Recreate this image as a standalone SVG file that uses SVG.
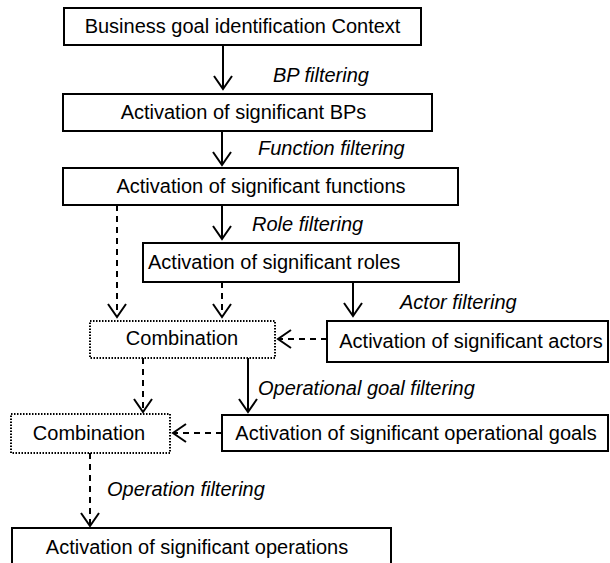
<svg xmlns="http://www.w3.org/2000/svg" width="610" height="563" viewBox="0 0 610 563">
  <style>
    .box { fill: #fff; stroke: #000; stroke-width: 2; }
    .combo { fill: #fff; stroke: #000; stroke-width: 2; stroke-dasharray: 1.5 1.5; }
    .lbl { font-family: "Liberation Sans", Arial, sans-serif; font-size: 20px; fill: #000; }
    .flt { font-family: "Liberation Sans", Arial, sans-serif; font-size: 20px; font-style: italic; fill: #000; }
    .solid { stroke: #000; stroke-width: 2; fill: none; marker-end: url(#vhead); }
    .dash { stroke: #000; stroke-width: 2; fill: none; stroke-dasharray: 6 5; marker-end: url(#vhead); }
  </style>
  <defs>
    <marker id="vhead" viewBox="-15 -11 17 22" refX="0" refY="0" markerWidth="17" markerHeight="22" markerUnits="userSpaceOnUse" orient="auto">
      <path d="M-13,-9 L0,0 L-13,9" fill="none" stroke="#000" stroke-width="2" stroke-dasharray="none"/>
    </marker>
  </defs>

  <g id="connectors">
    <line class="solid" x1="223" y1="45" x2="223" y2="89"/>
    <line class="solid" x1="222" y1="131" x2="222" y2="165"/>
    <line class="solid" x1="222" y1="205" x2="222" y2="239"/>
    <line class="dash" x1="117" y1="205" x2="117" y2="317"/>
    <line class="dash" x1="222" y1="282" x2="222" y2="317"/>
    <line class="solid" x1="353" y1="282" x2="353" y2="316"/>
    <line class="dash" x1="327" y1="339" x2="278" y2="339"/>
    <line class="dash" x1="143" y1="358" x2="143" y2="412"/>
    <line class="solid" x1="248" y1="358" x2="248" y2="412"/>
    <line class="dash" x1="222" y1="433" x2="173" y2="433"/>
    <line class="dash" x1="90" y1="453" x2="90" y2="526"/>
  </g>

  <g id="filter-labels">
    <text class="flt" x="273" y="82">BP filtering</text>
    <text class="flt" x="258" y="155">Function filtering</text>
    <text class="flt" x="252" y="231">Role filtering</text>
    <text class="flt" x="400" y="309">Actor filtering</text>
    <text class="flt" x="258" y="395">Operational goal filtering</text>
    <text class="flt" x="107" y="496">Operation filtering</text>
  </g>

  <g id="business-goal-context">
    <rect class="box" x="64" y="8" width="357" height="37"/>
    <text class="lbl" x="242.5" y="33" text-anchor="middle">Business goal identification Context</text>
  </g>
  <g id="significant-bps">
    <rect class="box" x="63" y="94" width="369" height="37"/>
    <text class="lbl" x="243.5" y="119" text-anchor="middle">Activation of significant BPs</text>
  </g>
  <g id="significant-functions">
    <rect class="box" x="63" y="168" width="395" height="37"/>
    <text class="lbl" x="261" y="193" text-anchor="middle">Activation of significant functions</text>
  </g>
  <g id="significant-roles">
    <rect class="box" x="143" y="243" width="316" height="39"/>
    <text class="lbl" x="148" y="269">Activation of significant roles</text>
  </g>
  <g id="combination-1">
    <rect class="combo" x="90" y="321" width="185" height="37"/>
    <text class="lbl" x="182" y="345" text-anchor="middle">Combination</text>
  </g>
  <g id="significant-actors">
    <rect class="box" x="327" y="321" width="281" height="41"/>
    <text class="lbl" x="471" y="348" text-anchor="middle">Activation of significant actors</text>
  </g>
  <g id="combination-2">
    <rect class="combo" x="11" y="414" width="159" height="39"/>
    <text class="lbl" x="89" y="440" text-anchor="middle">Combination</text>
  </g>
  <g id="significant-operational-goals">
    <rect class="box" x="222" y="415" width="386" height="36"/>
    <text class="lbl" x="416" y="440" text-anchor="middle">Activation of significant operational goals</text>
  </g>
  <g id="significant-operations">
    <rect class="box" x="12" y="528" width="379" height="40"/>
    <text class="lbl" x="197" y="554" text-anchor="middle">Activation of significant operations</text>
  </g>
</svg>
